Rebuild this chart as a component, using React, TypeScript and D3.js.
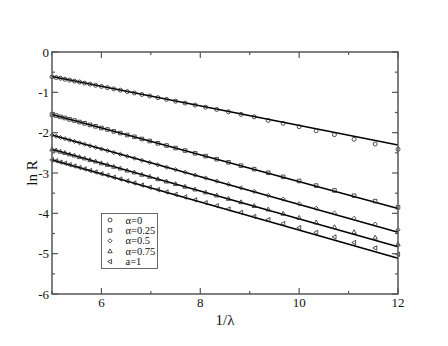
import React from 'react';
import * as d3 from 'd3';

// 1/lambda values of the measured points
const invLambda = [
  5.0, 5.085, 5.172, 5.263, 5.357, 5.455, 5.556, 5.66, 5.769, 5.882, 6.0, 6.122,
  6.25, 6.383, 6.522, 6.667, 6.818, 6.977, 7.143, 7.317, 7.5, 7.692, 7.895, 8.108,
  8.333, 8.571, 8.824, 9.091, 9.375, 9.677, 10.0, 10.345, 10.714, 11.111, 11.538, 12.0,
];

const lnRAlpha0 = [
  -0.615, -0.633, -0.65, -0.676, -0.698, -0.722, -0.744, -0.772, -0.797, -0.825, -0.853, -0.883,
  -0.915, -0.946, -0.981, -1.016, -1.053, -1.091, -1.132, -1.174, -1.219, -1.266, -1.316, -1.368,
  -1.424, -1.482, -1.546, -1.607, -1.695, -1.768, -1.854, -1.952, -2.05, -2.164, -2.281, -2.413,
];
const lnRAlpha025 = [
  -1.552, -1.577, -1.609, -1.636, -1.67, -1.7, -1.736, -1.768, -1.807, -1.843, -1.884, -1.921,
  -1.967, -2.008, -2.058, -2.103, -2.156, -2.206, -2.264, -2.319, -2.382, -2.444, -2.513, -2.582,
  -2.657, -2.735, -2.818, -2.905, -2.995, -3.095, -3.198, -3.312, -3.432, -3.563, -3.698, -3.85,
];
const lnRAlpha05 = [
  -2.062, -2.088, -2.121, -2.15, -2.184, -2.216, -2.252, -2.286, -2.326, -2.363, -2.405, -2.445,
  -2.491, -2.535, -2.585, -2.633, -2.687, -2.739, -2.797, -2.856, -2.918, -2.983, -3.052, -3.124,
  -3.2, -3.28, -3.366, -3.458, -3.556, -3.65, -3.761, -3.875, -3.992, -4.124, -4.266, -4.41,
];
const lnRAlpha075 = [
  -2.412, -2.437, -2.471, -2.499, -2.535, -2.565, -2.603, -2.636, -2.677, -2.713, -2.757, -2.796,
  -2.843, -2.886, -2.937, -2.984, -3.04, -3.09, -3.151, -3.208, -3.272, -3.337, -3.406, -3.478,
  -3.555, -3.637, -3.722, -3.814, -3.902, -4.007, -4.109, -4.223, -4.34, -4.463, -4.6, -4.765,
];
const lnRA1 = [
  -2.673, -2.699, -2.732, -2.76, -2.796, -2.827, -2.865, -2.899, -2.94, -2.976, -3.02, -3.059,
  -3.107, -3.15, -3.2, -3.248, -3.3, -3.355, -3.412, -3.47, -3.532, -3.597, -3.665, -3.738,
  -3.812, -3.893, -3.978, -4.079, -4.158, -4.254, -4.356, -4.472, -4.586, -4.725, -4.859, -5.015,
];

const seriesLabels = ['α=0', 'α=0.25', 'α=0.5', 'α=0.75', 'a=1'];
const seriesValues = [lnRAlpha0, lnRAlpha025, lnRAlpha05, lnRAlpha075, lnRA1];
const symbols = ['circle', 'square', 'diamond', 'triangle', 'left'];

// straight fit lines, value at 1/lambda = 5 and 12
const fitX = [5, 12];
const fitAt5 = [-0.61, -1.55, -2.06, -2.41, -2.67];
const fitAt12 = [-2.306, -3.88, -4.47, -4.83, -5.115];

const xMajor = [6, 8, 10, 12];
const xMinor = [5, 7, 9, 11];
const yMajor = [0, -1, -2, -3, -4, -5, -6];
const yMinor = [-0.5, -1.5, -2.5, -3.5, -4.5, -5.5];

const W = 448;
const H = 346;
const left = 52;
const right = 398;
const top = 52;
const bottom = 294;

const x = d3.scaleLinear().domain([5, 12]).range([left, right]);
const y = d3.scaleLinear().domain([-6, 0]).range([bottom, top]);

const markerPath = (kind: string, cx: number, cy: number) => {
  if (kind === 'circle') {
    const r = 2;
    return `M${cx - r},${cy}a${r},${r} 0 1,0 ${2 * r},0a${r},${r} 0 1,0 ${-2 * r},0Z`;
  }
  if (kind === 'square') {
    const s = 1.8;
    return `M${cx - s},${cy - s}H${cx + s}V${cy + s}H${cx - s}Z`;
  }
  if (kind === 'diamond') {
    const s = 2.1;
    return `M${cx},${cy - s}L${cx + s},${cy}L${cx},${cy + s}L${cx - s},${cy}Z`;
  }
  if (kind === 'triangle') {
    return `M${cx},${cy - 2.3}L${cx + 2.2},${cy + 1.6}L${cx - 2.2},${cy + 1.6}Z`;
  }
  return `M${cx - 2.3},${cy}L${cx + 1.6},${cy - 2.2}L${cx + 1.6},${cy + 2.2}Z`;
};

const axisColor = '#555';
const font = "'Liberation Serif', 'DejaVu Serif', serif";

export default function App() {
  return (
    <svg
      width={W}
      height={H}
      style={{ position: 'absolute', left: 0, top: 0, background: '#fff', fontFamily: font }}
    >
      {/* fit lines */}
      {seriesValues.map((_, s) => {
        const vals = [fitAt5[s], fitAt12[s]];
        const path = d3
          .line<number>()
          .x((d) => x(d))
          .y((d, i) => y(vals[i]))(fitX);
        return <path key={'f' + s} d={path || ''} fill="none" stroke="#000" strokeWidth={1.5} />;
      })}

      {/* markers */}
      {seriesValues.map((vals, s) => (
        <g key={'m' + s} fill="none" stroke="#222" strokeWidth={0.8}>
          {vals.map((v, i) => (
            <path key={i} d={markerPath(symbols[s], x(invLambda[i]), y(v))} />
          ))}
        </g>
      ))}

      {/* frame */}
      <rect
        x={left}
        y={top}
        width={right - left}
        height={bottom - top}
        fill="none"
        stroke={axisColor}
        strokeWidth={1.5}
      />

      {/* ticks, pointing inward on all four sides */}
      <g stroke={axisColor} strokeWidth={1.2}>
        {xMajor.map((t) => (
          <g key={'xm' + t}>
            <line x1={x(t)} x2={x(t)} y1={bottom} y2={bottom - 6} />
            <line x1={x(t)} x2={x(t)} y1={top} y2={top + 6} />
          </g>
        ))}
        {xMinor.map((t) => (
          <g key={'xn' + t}>
            <line x1={x(t)} x2={x(t)} y1={bottom} y2={bottom - 3} />
            <line x1={x(t)} x2={x(t)} y1={top} y2={top + 3} />
          </g>
        ))}
        {yMajor.map((t) => (
          <g key={'ym' + t}>
            <line x1={left} x2={left + 6} y1={y(t)} y2={y(t)} />
            <line x1={right} x2={right - 6} y1={y(t)} y2={y(t)} />
          </g>
        ))}
        {yMinor.map((t) => (
          <g key={'yn' + t}>
            <line x1={left} x2={left + 3} y1={y(t)} y2={y(t)} />
            <line x1={right} x2={right - 3} y1={y(t)} y2={y(t)} />
          </g>
        ))}
      </g>

      {/* tick labels */}
      <g fontSize={13} fill="#111">
        {xMajor.map((t) => (
          <text key={'xl' + t} x={x(t)} y={bottom + 13} textAnchor="middle">
            {t}
          </text>
        ))}
        {yMajor.map((t) => (
          <text key={'yl' + t} x={left - 3} y={y(t) + 4.5} textAnchor="end">
            {t}
          </text>
        ))}
      </g>

      {/* axis titles */}
      <text x={(left + right) / 2} y={325} textAnchor="middle" fontSize={15} fill="#111">
        1/λ
      </text>
      <text
        transform={`translate(37,${(top + bottom) / 2}) rotate(-90)`}
        textAnchor="middle"
        fontSize={15}
        fill="#111"
      >
        ln R
      </text>

      {/* legend */}
      <rect x={101.5} y={213.5} width={56} height={55} fill="#fff" stroke="#444" strokeWidth={0.8} />
      {seriesLabels.map((lab, i) => {
        const ry = 220 + i * 10.4;
        return (
          <g key={'lg' + i}>
            <path d={markerPath(symbols[i], 110, ry)} fill="none" stroke="#222" strokeWidth={0.8} />
            <text x={125.5} y={ry + 3.5} fontSize={10.5} fill="#111">
              {lab}
            </text>
          </g>
        );
      })}
    </svg>
  );
}
